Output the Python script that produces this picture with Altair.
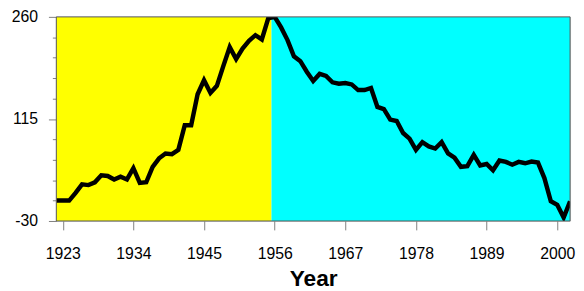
import altair as alt
import pandas as pd

# ---- data ----
years = list(range(1922, 2003))
values = [
    -1, -1, -1, 10, 22, 21, 25, 35, 34, 29,      # 1922-1931
    33, 29, 45, 24, 25, 47, 59, 66, 65, 71,      # 1932-1941
    106, 106, 150, 170, 152, 162, 190, 217, 200, 215,  # 1942-1951
    226, 234, 228, 258, 260, 245, 227, 204, 197, 182,  # 1952-1961
    169, 179, 176, 167, 165, 166, 164, 156, 156, 159,  # 1962-1971
    132, 129, 114, 112, 95, 87, 71, 82, 76, 73,        # 1972-1981
    82, 66, 60, 47, 48, 64, 49, 51, 42, 56,            # 1982-1991
    54, 50, 54, 52, 54.5, 53, 31, -2, -7, -25,         # 1992-2001
    -2,                                                # 2002
]
period_start = [1922, 1955.5]
period_end = [1955.5, 2002]
period_name = ["rise", "fall"]
period_color = ["#ffff00", "#00ffff"]
x_domain = [1922, 2002]
y_domain = [-30, 260]
x_ticks = [1923, 1934, 1945, 1956, 1967, 1978, 1989, 2000]
y_ticks = [-30, -1, 28, 57, 86, 115, 144, 173, 202, 231, 260]
y_labelled = [-30, 115, 260]

series = pd.DataFrame({"year": years, "value": values})
periods = pd.DataFrame({
    "start": period_start, "end": period_end, "name": period_name,
    "lo": [y_domain[0]] * 2, "hi": [y_domain[1]] * 2,
})
frame = pd.DataFrame({"x0": [x_domain[0]], "x1": [x_domain[1]],
                      "y0": [y_domain[0]], "y1": [y_domain[1]]})

FONT = "Liberation Sans"
label_test = "indexof([" + ",".join(str(v) for v in y_labelled) + "], datum.value) >= 0"

x_scale = alt.Scale(domain=x_domain, nice=False, zero=False)
y_scale = alt.Scale(domain=y_domain, nice=False, zero=False)

x_axis = alt.Axis(
    values=x_ticks, format="d", title="Year", grid=False, domain=False,
    tickSize=9, tickColor="#808080", tickWidth=1,
    labelFont=FONT, labelFontSize=16, labelColor="black", labelPadding=16,
    labelOverlap=False,
    titleFont=FONT, titleFontSize=23, titleFontWeight="bold", titleColor="black",
    titlePadding=6,
)
y_axis = alt.Axis(
    values=y_ticks, title=None, grid=False, domain=False,
    tickSize={"condition": {"test": label_test, "value": 8}, "value": 4},
    tickColor="#808080", tickWidth=1,
    labelExpr=f"({label_test}) ? toString(datum.value) : ''",
    labelOverlap=False,
    labelFont=FONT, labelFontSize=16, labelColor="black", labelPadding=11,
)

bg = alt.Chart(periods).mark_rect().encode(
    x=alt.X("start:Q", scale=x_scale, axis=x_axis),
    x2="end:Q",
    y=alt.Y("lo:Q", scale=y_scale, axis=y_axis),
    y2="hi:Q",
    color=alt.Color("name:N", scale=alt.Scale(domain=period_name, range=period_color), legend=None),
)

line = alt.Chart(series).mark_line(color="black", strokeWidth=4.5, clip=True).encode(
    x=alt.X("year:Q", scale=x_scale, axis=x_axis),
    y=alt.Y("value:Q", scale=y_scale, axis=y_axis),
)

border = alt.Chart(frame).mark_rect(fill=None, fillOpacity=0, stroke="#555555", strokeWidth=1).encode(
    x=alt.X("x0:Q", scale=x_scale, axis=x_axis), x2="x1:Q",
    y=alt.Y("y0:Q", scale=y_scale, axis=y_axis), y2="y1:Q",
)

chart = alt.layer(bg, line, border).properties(
    width=521, height=207,
    autosize=alt.AutoSizeParams(type="none"),
    padding={"left": 49, "top": 7, "right": 6, "bottom": 70},
).configure_view(stroke=None).configure(background="white").configure_axis(labelOverlap=False)

chart.save("out.html", embed_options={"renderer": "svg", "actions": False})
